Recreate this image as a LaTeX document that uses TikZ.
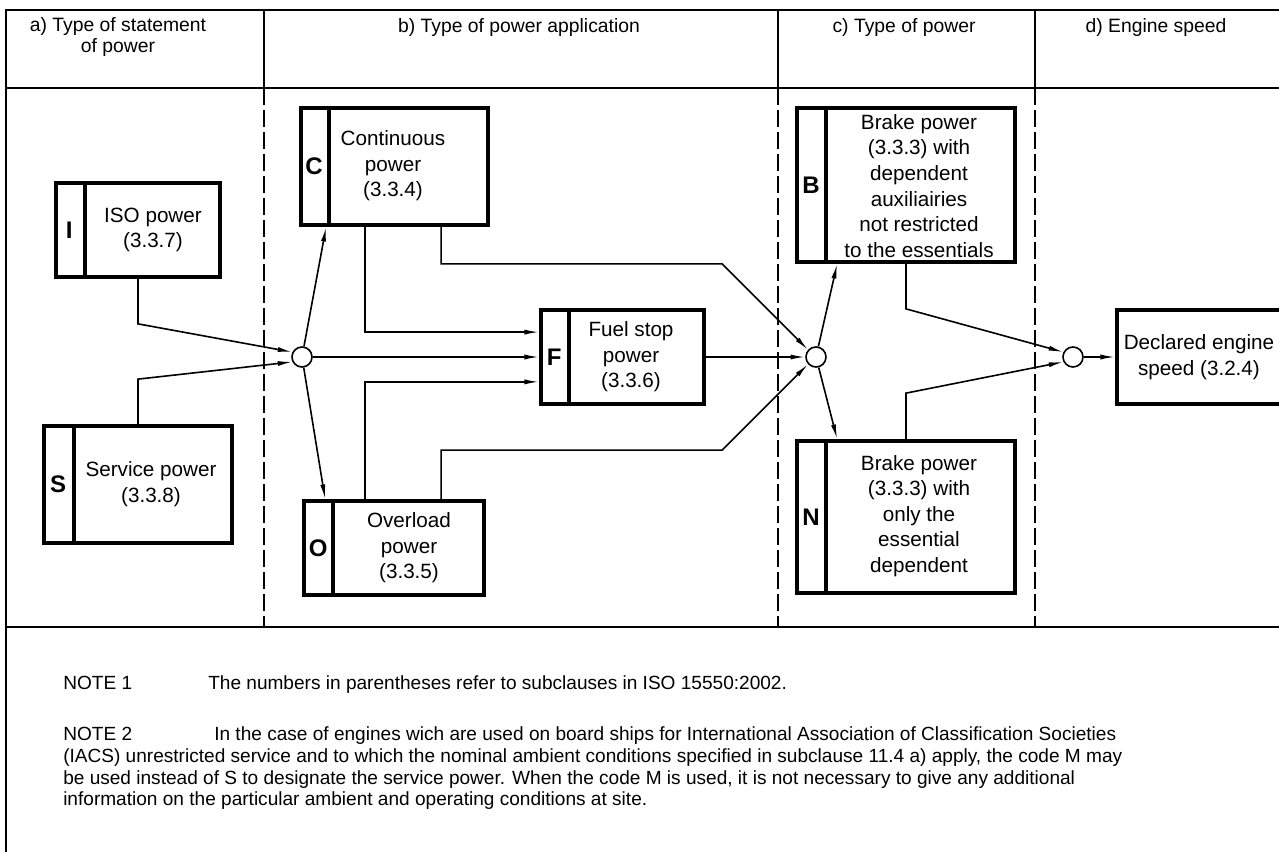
\documentclass[tikz,border=0pt]{standalone}
\usepackage{fontspec}
\setmainfont{Liberation Sans}
\usetikzlibrary{arrows.meta,calc}
\begin{document}
\begin{tikzpicture}[x=0.75pt,y=-0.75pt,
  frame/.style={line width=1.4pt},
  sep/.style={line width=1.2pt, dash pattern=on 13pt off 3.5pt},
  pbox/.style={draw, line width=2.8pt, rectangle, inner sep=0pt},
  strip/.style={line width=2.8pt},
  lett/.style={inner sep=0pt, font=\fontsize{18}{18}\selectfont\bfseries},
  txt/.style={align=center, inner sep=0pt, font=\fontsize{15.5}{19.2}\selectfont},
  hdr/.style={anchor=base, inner sep=0pt, font=\fontsize{14.5}{14.5}\selectfont},
  conn/.style={line width=1.2pt},
  arr/.style={conn, -{Latex[length=11pt,width=3.8pt]}},
  junc/.style={circle, draw, line width=1.2pt, minimum size=15pt, inner sep=0pt, fill=white},
  note/.style={anchor=base west, inner sep=0pt, font=\fontsize{14.3}{17}\selectfont}]
\useasboundingbox (0,0) rectangle (1279,852);
\clip (0,0) rectangle (1279,852);

% frame
\draw[frame] (1300,10) -| (6,870);
\draw[frame] (6,88) -- (1300,88);
\draw[frame] (6,627) -- (1300,627);
\draw[frame] (264,10) -- (264,88);
\draw[frame] (778,10) -- (778,88);
\draw[frame] (1035,10) -- (1035,88);
\draw[sep] (264,88) -- (264,627);
\draw[sep] (778,88) -- (778,627);
\draw[sep] (1035,88) -- (1035,627);

% headers
\node[hdr] (ha1) at (118,32) {a) Type of statement};
\node[hdr] (ha2) at (118,53) {of power};
\node[hdr] (hb) at (519,33) {b) Type of power application};
\node[hdr] (hc) at (904,33) {c) Type of power};
\node[hdr] (hd) at (1156,33) {d) Engine speed};

% boxes
\node[pbox, minimum width=123pt, minimum height=70.5pt] (I) at (138,230) {};
\draw[strip] ($(I.north west)+(30.5,0)$) -- ($(I.south west)+(30.5,0)$);
\node[lett] (Il) at ($(I.west)+(15,0)$) {I};
\node[txt] (It) at (153,230) {ISO power\\(3.3.7)};

\node[pbox, minimum width=141pt, minimum height=87.75pt] (S) at (138,484.5) {};
\draw[strip] ($(S.north west)+(31.5,0)$) -- ($(S.south west)+(31.5,0)$);
\node[lett] (Sl) at ($(S.west)+(16,0)$) {S};
\node[txt] (St) at (151,484) {Service power\\(3.3.8)};

\node[pbox, minimum width=140.25pt, minimum height=87.75pt] (C) at (394.5,166.5) {};
\draw[strip] ($(C.north west)+(30,0)$) -- ($(C.south west)+(30,0)$);
\node[lett] (Cl) at ($(C.west)+(15,0)$) {C};
\node[txt] (Ct) at (393,166) {Continuous\\power\\(3.3.4)};

\node[pbox, minimum width=135pt, minimum height=70.5pt] (O) at (394,548) {};
\draw[strip] ($(O.north west)+(31,0)$) -- ($(O.south west)+(31,0)$);
\node[lett] (Ol) at ($(O.west)+(16,0)$) {O};
\node[txt] (Ot) at (409,548) {Overload\\power\\(3.3.5)};

\node[pbox, minimum width=122.25pt, minimum height=70.5pt] (F) at (622.5,357) {};
\draw[strip] ($(F.north west)+(30,0)$) -- ($(F.south west)+(30,0)$);
\node[lett] (Fl) at ($(F.west)+(15,0)$) {F};
\node[txt] (Ft) at (631,357) {Fuel stop\\power\\(3.3.6)};

\node[pbox, minimum width=163.5pt, minimum height=115.5pt] (B) at (906,185) {};
\draw[strip] ($(B.north west)+(31,0)$) -- ($(B.south west)+(31,0)$);
\node[lett] (Bl) at ($(B.west)+(16,0)$) {B};
\node[txt] (Bt) at (919,186) {Brake power\\(3.3.3) with\\dependent\\auxiliairies\\not restricted\\to the essentials};

\node[pbox, minimum width=163.5pt, minimum height=114pt] (N) at (906,517) {};
\draw[strip] ($(N.north west)+(31,0)$) -- ($(N.south west)+(31,0)$);
\node[lett] (Nl) at ($(N.west)+(16,0)$) {N};
\node[txt] (Nt) at (919,516) {Brake power\\(3.3.3) with\\only the\\essential\\dependent};

\node[pbox, minimum width=152.25pt, minimum height=70.5pt] (D) at (1218.5,357) {};
\node[txt] (Dt) at (1199,357) {Declared engine\\speed (3.2.4)};

% junctions
\node[junc] (J1) at (302,357) {};
\node[junc] (J2) at (816,357) {};
\node[junc] (J3) at (1073,357) {};

% connectors
\draw[arr] (I.south) -- ++(0,45) -- (J1.153);
\draw[arr] (S.north) -- ++(0,-45) -- (J1.207);
\draw[arr] (J1) -- ($(C.south west)+(27,0)$);
\draw[arr] (J1) -- ($(O.north west)+(23,0)$);
\draw[arr] (J1) -- (F.west);
\draw[arr] ($(C.south west)+(66,0)$) |- ($(F.north west)+(0,24)$);
\draw[arr] ($(O.north west)+(63,0)$) |- ($(F.south west)+(0,-24)$);
\draw[arr] ($(C.south west)+(142,0)$) -- ++(0,37) -- ++(281,0) -- (J2.138);
\draw[arr] ($(O.north west)+(139,0)$) -- ++(0,-49) -- ++(281,0) -- (J2.222);
\draw[arr] (F.east) -- (J2.west);
\draw[arr] (J2) -- ($(B.south west)+(42,0)$);
\draw[arr] (J2) -- ($(N.north west)+(42,0)$);
\draw[arr] (B.south) -- ++(0,45) -- (J3.153);
\draw[arr] (N.north) -- ++(0,-46) -- (J3.207);
\draw[arr] (J3) -- (D.west);

% notes
\node[note] (n1a) at (63,689) {NOTE 1};
\node[note] (n1b) at (208,689) {The numbers in parentheses refer to subclauses in ISO 15550:2002.};
\node[note] (n2a) at (63,740) {NOTE 2};
\node[note] (n2b) at (214,740) {In the case of engines wich are used on board ships for International Association of Classification Societies};
\node[note] (n2c) at (63,762) {(IACS) unrestricted service and to which the nominal ambient conditions specified in subclause 11.4 a) apply, the code M may};
\node[note] (n2d) at (63,784) {be used instead of S to designate the service power. When the code M is used, it is not necessary to give any additional};
\node[note] (n2e) at (63,805) {information on the particular ambient and operating conditions at site.};
\end{tikzpicture}
\end{document}
